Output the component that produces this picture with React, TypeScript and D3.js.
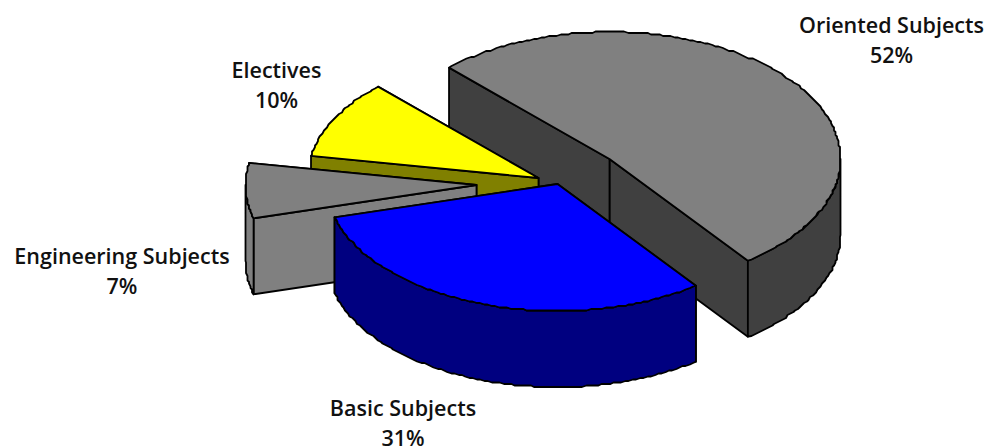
import * as d3 from "d3";

const CATEGORIES = ["Oriented Subjects", "Basic Subjects", "Engineering Subjects", "Electives"];
const SHARES = [52, 31, 7, 10];
const TOP_COLORS = ["#808080", "#0000ff", "#808080", "#ffff00"];
const WALL_COLORS = ["#404040", "#000080", "#808080", "#808000"];

// layout of the tilted pie
const W = 989;
const H = 448;
const CX = 609.5;
const CY = 159;
const RX = 231;
const RY = 127;
const DEPTH = 76;
const START = (-44 * Math.PI) / 180;
// how far each slice is pulled out of the pie, in page px
const EXPLODE_X = [0, -52, -133, -71];
const EXPLODE_Y = [0, 25, 26, 19];
const LABEL_X = [891.5, 403, 122, 276.5];
const LABEL_Y = [33, 416, 264, 78];
const LINE_GAP = 29.5;
// the reference rim is a stepped, jagged line
const STEP_PX = 4;
const GRID_PX = 1.5;

const DRAW_ORDER = [0, 3, 2, 1];

const rim = (a: number, ox: number, oy: number, dz = 0): [number, number] => [
  ox + RX * Math.sin(a),
  oy - RY * Math.cos(a) + dz,
];

const line = d3.line();
const snap = (v: number) => Math.round(v / GRID_PX) * GRID_PX;

function arcPoints(a0: number, a1: number, ox: number, oy: number, dz = 0) {
  const n = Math.max(2, Math.ceil(((a1 - a0) * RX) / STEP_PX));
  const t = d3.scaleLinear().domain([0, n]).range([a0, a1]);
  return d3.range(n + 1).map((i) => {
    const p = rim(t(i), ox, oy, dz);
    return i === 0 || i === n ? p : ([snap(p[0]), snap(p[1])] as [number, number]);
  });
}

export default function App() {
  const slices = d3
    .pie<number>()
    .sort(null)
    .startAngle(START)
    .endAngle(START + 2 * Math.PI)(SHARES);

  return (
    <svg
      width={W}
      height={H}
      viewBox={`0 0 ${W} ${H}`}
      style={{ position: "absolute", left: 0, top: 0, background: "#fff" }}
    >
      <g stroke="#000" strokeWidth={1.8} strokeLinejoin="round">
        {DRAW_ORDER.map((i) => {
          const s = slices[i];
          const ox = CX + EXPLODE_X[i];
          const oy = CY + EXPLODE_Y[i];
          const apex: [number, number] = [ox, oy];
          const apexLow: [number, number] = [ox, oy + DEPTH];
          const face = (a: number) =>
            line([apex, rim(a, ox, oy), rim(a, ox, oy, DEPTH), apexLow]) + "Z";
          // only the near half of the rim shows its outer wall
          const w0 = Math.max(s.startAngle, Math.PI / 2);
          const w1 = Math.min(s.endAngle, (3 * Math.PI) / 2);
          const wall =
            w1 > w0
              ? line([
                  ...arcPoints(w0, w1, ox, oy),
                  ...arcPoints(w0, w1, ox, oy, DEPTH).reverse(),
                ]) + "Z"
              : null;
          return (
            <g key={CATEGORIES[i]}>
              <path d={face(s.endAngle)} fill={WALL_COLORS[i]} />
              <path d={face(s.startAngle)} fill={WALL_COLORS[i]} />
              {wall && <path d={wall} fill={WALL_COLORS[i]} />}
              <path
                d={line([apex, ...arcPoints(s.startAngle, s.endAngle, ox, oy)]) + "Z"}
                fill={TOP_COLORS[i]}
              />
            </g>
          );
        })}
      </g>
      <g
        fontFamily="'Open Sans', sans-serif"
        fontWeight={600}
        fontSize={21.5}
        fill="#111"
        textAnchor="middle"
      >
        {CATEGORIES.map((c, i) => (
          <text key={c} x={LABEL_X[i]} y={LABEL_Y[i]}>
            <tspan x={LABEL_X[i]}>{c}</tspan>
            <tspan x={LABEL_X[i]} dy={LINE_GAP}>
              {SHARES[i]}%
            </tspan>
          </text>
        ))}
      </g>
    </svg>
  );
}
